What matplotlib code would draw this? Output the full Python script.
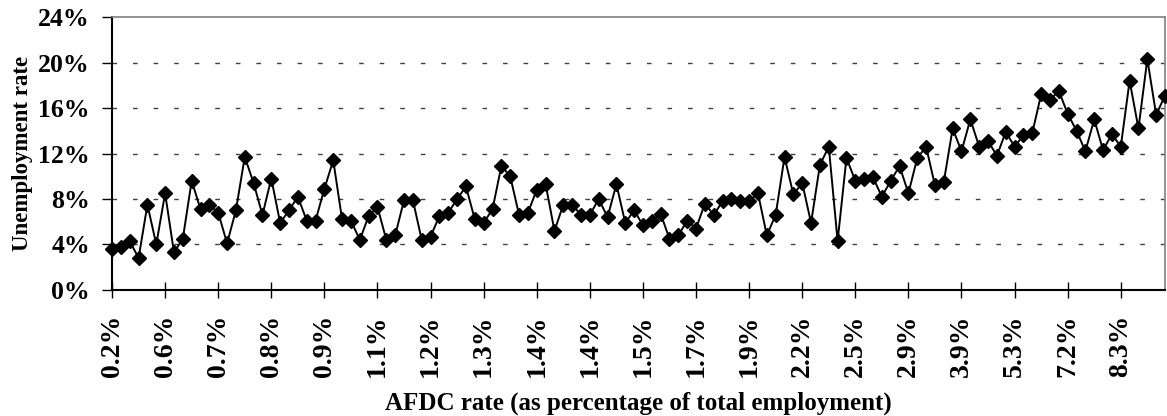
import numpy as np
import matplotlib
matplotlib.use("Agg")
from matplotlib import pyplot as plt
from matplotlib.ticker import FuncFormatter

plt.rcParams['font.family'] = ['Liberation Serif', 'DejaVu Serif']
plt.rcParams['font.weight'] = 'bold'

# unemployment rate (%), states sorted by AFDC rate
unemp = [3.6, 3.8, 4.3, 2.8, 7.5, 4.0, 8.5, 3.3, 4.5, 9.6,
         7.1, 7.5, 6.8, 4.1, 7.0, 11.7, 9.4, 6.6, 9.8, 5.9,
         7.0, 8.2, 6.1, 6.1, 8.9, 11.4, 6.2, 6.1, 4.4, 6.5,
         7.3, 4.4, 4.8, 7.9, 7.9, 4.4, 4.7, 6.5, 6.8, 8.0,
         9.1, 6.2, 5.9, 7.1, 10.9, 10.0, 6.6, 6.8, 8.8, 9.3,
         5.2, 7.5, 7.5, 6.6, 6.6, 8.0, 6.4, 9.3, 5.9, 7.0,
         5.7, 6.1, 6.7, 4.5, 4.8, 6.1, 5.4, 7.6, 6.6, 7.8,
         8.0, 7.8, 7.8, 8.5, 4.8, 6.6, 11.7, 8.4, 9.4, 5.9,
         11.0, 12.6, 4.3, 11.6, 9.6, 9.8, 9.9, 8.2, 9.6, 10.9,
         8.5, 11.6, 12.6, 9.2, 9.5, 14.2, 12.2, 15.0, 12.6, 13.1,
         11.8, 13.9, 12.6, 13.6, 13.8, 17.2, 16.7, 17.5, 15.5, 14.0,
         12.2, 15.0, 12.3, 13.7, 12.6, 18.4, 14.2, 20.3, 15.4, 17.1]

# category labels shown every 6th point
afdc_labels = ['0.2%', '0.6%', '0.7%', '0.8%', '0.9%', '1.1%', '1.2%', '1.3%',
               '1.4%', '1.4%', '1.5%', '1.7%', '1.9%', '2.2%', '2.5%', '2.9%',
               '3.9%', '5.3%', '7.2%', '8.3%']
label_step = 6

x = np.arange(len(unemp))
y = np.array(unemp) / 100.0

fig = plt.figure(figsize=(11.67, 4.16), dpi=100)
ax = fig.add_axes([0.096, 0.303, 0.9023, 0.656])

for v in np.arange(0.04, 0.21, 0.04):
    ax.axhline(v, color='#404040', lw=1.0, ls=(0, (3.3, 11.5)), zorder=1)

ax.plot(x, y, '-', color='black', lw=1.4, marker='D', ms=7,
        mfc='black', mec='black', clip_on=False, zorder=3)

ax.set_xlim(0, len(unemp) - 1)
ax.set_ylim(0, 0.24)
ax.set_yticks(np.arange(0, 0.241, 0.04))
ax.yaxis.set_major_formatter(FuncFormatter(lambda v, p: '%d%%' % round(v * 100)))

ticks = np.arange(0, len(afdc_labels) * label_step, label_step)
ax.set_xticks(ticks)
ax.set_xticklabels(afdc_labels, rotation=90)

ax.tick_params(axis='y', direction='out', length=7, width=1, labelsize=18.5, pad=9)
ax.tick_params(axis='x', direction='inout', length=12, width=1, labelsize=20, pad=12)

for s in ['left', 'bottom']:
    ax.spines[s].set_color('black')
    ax.spines[s].set_linewidth(1.5)
for s in ['top', 'right']:
    ax.spines[s].set_color('#808080')
    ax.spines[s].set_linewidth(1.2)

ax.set_ylabel('Unemployment rate', fontsize=16.5, fontweight='bold', labelpad=4)
ax.set_xlabel('AFDC rate (as percentage of total employment)', fontsize=18,
              fontweight='bold', labelpad=10)

fig.savefig('out.png', dpi=100)
